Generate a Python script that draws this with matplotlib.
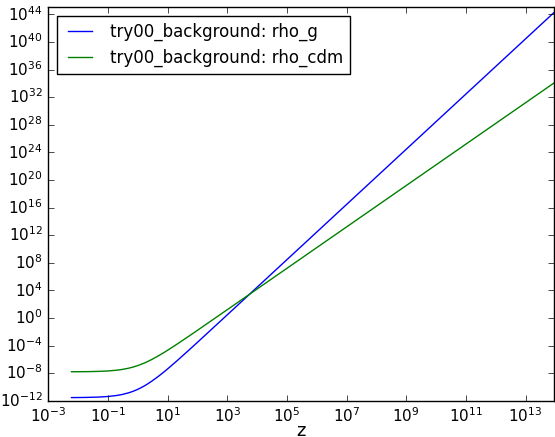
"""
Background densities rho_g and rho_cdm versus redshift (log-log).
"""

import numpy as np
import matplotlib.pyplot as plt

# ---------------------------------------------------------------------
# Values
# ---------------------------------------------------------------------

z = [0.006, 0.01, 0.02, 0.05, 0.1, 0.2, 0.3, 0.5, 0.7, 1, 1.5, 2, 3, 5, 7,
     10, 20, 50, 100, 1e3, 1e4, 1e6, 1e9, 1e12, 8.9e13]

rho_g = [2.87e-12, 2.91e-12, 3.03e-12, 3.40e-12, 4.10e-12, 5.81e-12,
         8.0e-12, 1.42e-11, 2.34e-11, 4.48e-11, 1.094e-10, 2.27e-10,
         7.17e-10, 3.63e-9, 1.147e-8, 4.10e-8, 5.45e-7, 1.894e-5, 2.91e-4,
         2.81, 2.80e4, 2.8e12, 2.8e24, 2.8e36, 1.76e44]

rho_cdm = [1.578e-8, 1.597e-8, 1.645e-8, 1.794e-8, 2.063e-8, 2.678e-8,
           3.41e-8, 5.23e-8, 7.62e-8, 1.24e-7, 2.42e-7, 4.19e-7, 9.92e-7,
           3.35e-6, 7.94e-6, 2.06e-5, 1.435e-4, 2.056e-3, 1.60e-2, 15.6,
           1.55e4, 1.55e10, 1.55e19, 1.55e28, 1.09e34]

labels = ["try00_background: rho_g", "try00_background: rho_cdm"]

# ---------------------------------------------------------------------
# Plot
# ---------------------------------------------------------------------

plt.style.use("classic")

fig = plt.figure(figsize=(5.55, 4.37), dpi=100)
ax = fig.add_axes([0.087, 0.083, 0.911, 0.900])

ax.loglog(z, rho_g, color="b", label=labels[0])
ax.loglog(z, rho_cdm, color="g", label=labels[1])

ax.set_xlim(1e-3, 8.9e13)
ax.set_ylim(1e-12, 1e45)
ax.tick_params(labelsize=11)
ax.set_xlabel("z", fontsize=13, labelpad=-2)

ax.legend(loc="upper left", fontsize=12)

plt.savefig("out.png", dpi=100, facecolor="white")
